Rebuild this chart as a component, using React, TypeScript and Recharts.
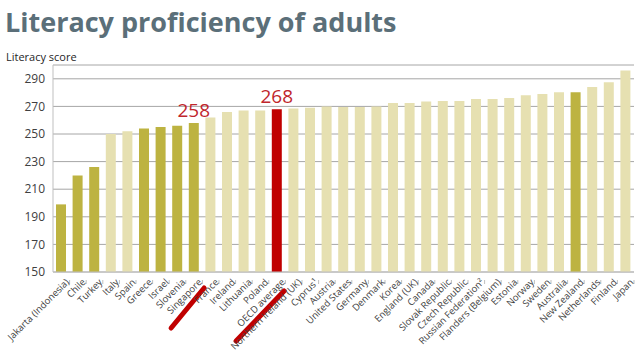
import React from "react";
import { BarChart, Bar, XAxis, YAxis, CartesianGrid, Cell, LabelList } from "recharts";

const countries = [
  "Jakarta (Indonesia)", "Chile", "Turkey", "Italy", "Spain", "Greece", "Israel", "Slovenia",
  "Singapore", "France", "Ireland", "Lithuania", "Poland", "OECD average", "Northern Ireland (UK)",
  "Cyprus\u00B9", "Austria", "United States", "Germany", "Denmark", "Korea", "England (UK)", "Canada",
  "Slovak Republic", "Czech Republic", "Russian Federation\u00B2", "Flanders (Belgium)", "Estonia",
  "Norway", "Sweden", "Australia", "New Zealand", "Netherlands", "Finland", "Japan",
];

const scores = [
  199, 220, 226, 250, 252, 254, 255, 256, 258, 262, 266, 267, 267, 268, 268.5,
  269, 270, 269.5, 269.5, 270, 272.5, 272.5, 273.5, 274, 274, 275.3, 275.3, 276,
  278, 279, 280.3, 280.3, 284, 287.5, 296,
];

// highlight groups
const darkOnes = ["Jakarta (Indonesia)", "Chile", "Turkey", "Greece", "Israel", "Slovenia", "Singapore", "New Zealand"];
const redOnes = ["OECD average"];
const labelled = ["Singapore", "OECD average"];
const yTicks = [150, 170, 190, 210, 230, 250, 270, 290];

const data = countries.map((name, i) => ({ name, score: scores[i] }));

const barColor = (name: string) =>
  redOnes.includes(name) ? "#c00000" : darkOnes.includes(name) ? "#bdb341" : "#e6e0b1";

const font = "'Open Sans', sans-serif";

const CountryTick = (props: any) => {
  const { x, y, payload } = props;
  const name = payload.value as string;
  return (
    <g transform={`translate(${x},${y})`}>
      <line x1={8.3} y1={0} x2={8.3} y2={4} stroke="#bfbfbf" />
      <text
        x={0}
        y={0}
        dy={8}
        dx={4}
        textAnchor="end"
        transform="rotate(-45)"
        fontSize={9.5}
        fill="#404040"
        fontFamily={font}
      >
        {name}
      </text>
      {name === "Singapore" && (
        <line x1={-23} y1={48} x2={10} y2={8} stroke="#c00000" strokeWidth={5} strokeLinecap="round" />
      )}
      {name === "OECD average" && (
        <line x1={-41} y1={61} x2={7} y2={11} stroke="#c00000" strokeWidth={5} strokeLinecap="round" />
      )}
    </g>
  );
};

const ValueLabel = (props: any) => {
  const { x, y, width, value, index } = props;
  if (!labelled.includes(countries[index])) return null;
  return (
    <text x={x + width / 2} y={y - 6} textAnchor="middle" fontSize={19} fill="#c0262c" fontFamily={font}>
      {Math.round(value)}
    </text>
  );
};

export default function App() {
  return (
    <div style={{ position: "absolute", left: 0, top: 0, width: 640, height: 352, background: "#fff", fontFamily: font }}>
      <div style={{ position: "absolute", left: 5, top: 3, fontSize: 27, fontWeight: 700, color: "#5b6f79" }}>
        Literacy proficiency of adults
      </div>
      <div style={{ position: "absolute", left: 6, top: 49, fontSize: 11, color: "#262626" }}>Literacy score</div>
      <BarChart
        width={640}
        height={352}
        data={data}
        margin={{ top: 65, right: 6, bottom: 0, left: 8 }}
        barSize={10}
      >
        <CartesianGrid vertical={false} stroke="#a6a6a6" />
        <XAxis
          dataKey="name"
          interval={0}
          tick={<CountryTick />}
          tickLine={false}
          axisLine={{ stroke: "#bfbfbf" }}
          height={80}
        />
        <YAxis
          domain={[150, 300]}
          ticks={yTicks}
          width={45}
          tickLine={false}
          axisLine={{ stroke: "#bfbfbf" }}
          tick={{ fontSize: 12, fill: "#404040", fontFamily: font }}
        />
        <Bar dataKey="score" isAnimationActive={false}>
          {data.map((d) => (
            <Cell key={d.name} fill={barColor(d.name)} />
          ))}
          <LabelList dataKey="score" content={<ValueLabel />} />
        </Bar>
      </BarChart>
    </div>
  );
}
